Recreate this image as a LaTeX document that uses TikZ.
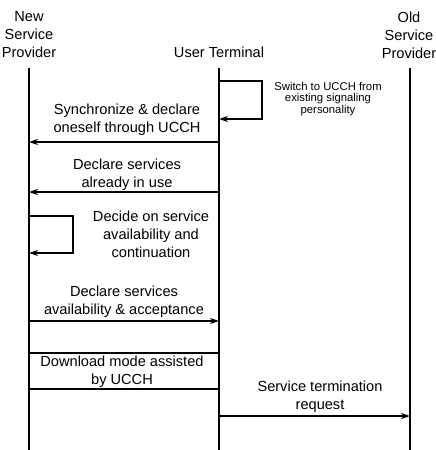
\documentclass[tikz,border=0pt]{standalone}
\usepackage{fontspec}
\setmainfont{Liberation Sans}
\usetikzlibrary{arrows.meta}
\tikzset{
  life/.style={line width=1.6pt},
  msg/.style={line width=1.5pt,-{Stealth[length=9pt,width=6pt]}},
  plain/.style={line width=1.5pt},
  lbl/.style={align=center,inner sep=0pt,font=\fontsize{14.6}{18}\selectfont},
  small/.style={align=center,inner sep=0pt,font=\fontsize{11.3}{11.2}\selectfont},
}
\begin{document}
\begin{tikzpicture}[x=1pt,y=-1pt]
\useasboundingbox (0,0) rectangle (436,450);
% heads
\node[lbl] (hnew) at (29,35) {New\\Service\\Provider};
\node[lbl] (hut) at (219,52) {User Terminal};
\node[lbl] (hold) at (409,35) {Old\\Service\\Provider};
% lifeline ends
\coordinate (nt) at (29,68);  \coordinate (nb) at (29,450);
\coordinate (ut) at (219,68); \coordinate (ub) at (219,450);
\coordinate (ot) at (410,68); \coordinate (ob) at (410,450);
\draw[life] (nt) -- (nb);
\draw[life] (ut) -- (ub);
\draw[life] (ot) -- (ob);
% self loop on user terminal
\coordinate (s1a) at (219,81);
\coordinate (s1b) at (219,119);
\draw[msg] (s1a) -| (262,100) |- (s1b);
\node[small] (t0) at (328,99) {Switch to UCCH from\\existing signaling\\personality};
% message 1
\coordinate (u1) at (219,142); \coordinate (n1) at (29,142);
\draw[msg] (u1) -- (n1);
\node[lbl] (t1) at (127,120) {Synchronize \& declare\\oneself through UCCH};
% message 2
\coordinate (u2) at (219,192); \coordinate (n2) at (29,192);
\draw[msg] (u2) -- (n2);
\node[lbl] (t2) at (127,175) {Declare services\\already in use};
% self loop on new provider
\coordinate (s2a) at (29,216);
\coordinate (s2b) at (29,253);
\draw[msg] (s2a) -| (73,235) |- (s2b);
\node[lbl] (t3) at (151,234) {Decide on service\\availability and\\continuation};
% message 3
\coordinate (n3) at (29,321); \coordinate (u3) at (219,321);
\draw[msg] (n3) -- (u3);
\node[lbl] (t4) at (124,302) {Declare services\\availability \& acceptance};
% download box
\coordinate (n4) at (29,353); \coordinate (u4) at (219,353);
\coordinate (n5) at (29,389); \coordinate (u5) at (219,389);
\draw[plain] (n4) -- (u4);
\draw[plain] (n5) -- (u5);
\node[lbl] (t5) at (122,372) {Download mode assisted\\by UCCH};
% message 4
\coordinate (u6) at (219,416); \coordinate (o6) at (410,416);
\draw[msg] (u6) -- (o6);
\node[lbl] (t6) at (320,397) {Service termination\\request};
\end{tikzpicture}
\end{document}
